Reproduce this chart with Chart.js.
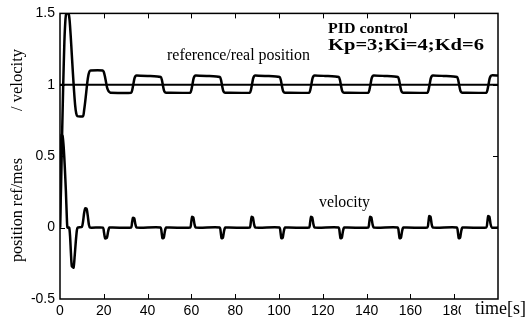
<!DOCTYPE html>
<html>
<head>
<meta charset="utf-8">
<script src="https://cdn.jsdelivr.net/npm/chart.js@4"></script>
<style>
  html, body { margin: 0; padding: 0; background: #fff; }
  #wrap { width: 526px; height: 322px; }
</style>
</head>
<body>
<div id="wrap"><canvas id="chart" width="526" height="322"></canvas></div>
<script>
// axis ticks
const xTickValues = [0, 20, 40, 60, 80, 100, 120, 140, 160, 180];
const xTickLabels = ["0", "20", "40", "60", "80", "100", "120", "140", "160", "180"];
const yTickValues = [-0.5, 0, 0.5, 1, 1.5];
const yTickLabels = ["-0.5", "0", "0.5", "1", "1.5"];

// reference position (step to 1)
const refTime = [0, 200];
const refValue = [1, 1];

const posTime = [
  0, 0.5, 1, 1.5, 2, 2.5, 2.9, 3.9, 4.4, 4.9, 5.4, 5.9, 6.4, 6.9, 7.4, 7.9, 10.5, 11, 11.5, 12, 12.5, 13, 13.5, 14,
  19.5, 20, 20.5, 21, 21.5, 22, 22.5, 23,
  32.5, 33, 33.5, 34, 34.5, 35, 40, 46, 46.5, 47, 47.5, 48, 48.5,
  59.5, 60, 60.5, 61, 61.5, 62, 67, 73, 73.5, 74, 74.5, 75, 75.5,
  86.7, 87.2, 87.7, 88.2, 88.7, 89.2, 94, 100.3, 100.8, 101.3, 101.8, 102.3, 102.8,
  113.8, 114.3, 114.8, 115.3, 115.8, 116.3, 121, 127.3, 127.8, 128.3, 128.8, 129.3, 129.8,
  140.8, 141.3, 141.8, 142.3, 142.8, 143.3, 148, 154.3, 154.8, 155.3, 155.8, 156.3, 156.8,
  167.8, 168.3, 168.8, 169.3, 169.8, 170.3, 175, 181.3, 181.8, 182.3, 182.8, 183.3, 183.8,
  194.7, 195.2, 195.7, 196.2, 196.7, 197.2, 200
];
const posValue = [
  0, 0.3, 0.68, 1.02, 1.3, 1.46, 1.5, 1.5, 1.45, 1.34, 1.21, 1.08, 0.96, 0.86, 0.8, 0.78, 0.78, 0.82, 0.88, 0.95, 1.02, 1.07, 1.095, 1.1,
  1.1, 1.09, 1.06, 1.02, 0.98, 0.96, 0.95, 0.945,
  0.945, 0.965, 1.005, 1.045, 1.062, 1.066, 1.062, 1.055, 1.035, 0.995, 0.96, 0.947, 0.945,
  0.945, 0.965, 1.005, 1.045, 1.062, 1.066, 1.062, 1.055, 1.035, 0.995, 0.96, 0.947, 0.945,
  0.945, 0.965, 1.005, 1.045, 1.062, 1.066, 1.062, 1.055, 1.035, 0.995, 0.96, 0.947, 0.945,
  0.945, 0.965, 1.005, 1.045, 1.062, 1.066, 1.062, 1.055, 1.035, 0.995, 0.96, 0.947, 0.945,
  0.945, 0.965, 1.005, 1.045, 1.062, 1.066, 1.062, 1.055, 1.035, 0.995, 0.96, 0.947, 0.945,
  0.945, 0.965, 1.005, 1.045, 1.062, 1.066, 1.062, 1.055, 1.035, 0.995, 0.96, 0.947, 0.945,
  0.945, 0.965, 1.005, 1.045, 1.062, 1.066, 1.065
];

// velocity
const velTime = [
  0, 0.3, 0.7, 1.2, 1.7, 2.2, 2.7, 3.1, 3.4, 4.2, 4.6, 5, 5.4, 6.2, 6.7, 7.2, 7.7, 8.1,
  10, 10.5, 11, 11.5, 12.2, 12.7, 13.2, 13.7,
  19.6, 20.1, 20.6, 21.4, 22, 22.6,
  32.4, 32.9, 33.3, 33.9, 34.4, 35,
  45.9, 46.4, 46.8, 47.4, 47.9, 48.5,
  59.4, 59.9, 60.3, 60.9, 61.4, 62,
  72.9, 73.4, 73.8, 74.4, 74.9, 75.5,
  86.6, 87.1, 87.5, 88.1, 88.6, 89.2,
  100.2, 100.7, 101.1, 101.7, 102.2, 102.8,
  113.7, 114.2, 114.6, 115.2, 115.7, 116.3,
  127.2, 127.7, 128.1, 128.7, 129.2, 129.8,
  140.7, 141.2, 141.6, 142.2, 142.7, 143.3,
  154.2, 154.7, 155.1, 155.7, 156.2, 156.8,
  167.7, 168.2, 168.6, 169.2, 169.7, 170.3,
  181.2, 181.7, 182.1, 182.7, 183.2, 183.8,
  194.6, 195.1, 195.5, 196.1, 196.6, 197.2, 200
];
const velValue = [
  0, 0.45, 0.65, 0.64, 0.56, 0.42, 0.25, 0.08, 0, 0, -0.06, -0.18, -0.27, -0.28, -0.2, -0.1, -0.02, 0,
  0.005, 0.04, 0.1, 0.135, 0.13, 0.08, 0.02, 0,
  0, -0.035, -0.075, -0.072, -0.025, 0,
  0, 0.035, 0.068, 0.065, 0.025, 0,
  0, -0.035, -0.075, -0.07, -0.025, 0,
  0, 0.035, 0.075, 0.07, 0.025, 0,
  0, -0.035, -0.075, -0.07, -0.025, 0,
  0, 0.035, 0.075, 0.07, 0.025, 0,
  0, -0.035, -0.075, -0.07, -0.025, 0,
  0, 0.035, 0.075, 0.07, 0.025, 0,
  0, -0.035, -0.075, -0.07, -0.025, 0,
  0, 0.035, 0.075, 0.07, 0.025, 0,
  0, -0.035, -0.075, -0.07, -0.025, 0,
  0, 0.035, 0.08, 0.075, 0.025, 0,
  0, -0.035, -0.075, -0.07, -0.025, 0,
  0, 0.035, 0.08, 0.075, 0.025, 0, 0
];

function toPoints(xs, ys) {
  return xs.map((x, i) => ({ x, y: ys[i] }));
}

function drawStretched(ctx, text, x, y, font, targetWidth) {
  ctx.save();
  ctx.font = font;
  const w = ctx.measureText(text).width;
  ctx.translate(x, y);
  ctx.scale(targetWidth ? targetWidth / w : 1, 1);
  ctx.fillText(text, 0, 0);
  ctx.restore();
}

function drawRotated(ctx, text, cx, cy, font, targetWidth) {
  ctx.save();
  ctx.font = font;
  const w = ctx.measureText(text).width;
  ctx.translate(cx, cy);
  ctx.rotate(-Math.PI / 2);
  ctx.scale(targetWidth ? targetWidth / w : 1, 1);
  ctx.textAlign = "center";
  ctx.textBaseline = "middle";
  ctx.fillText(text, 0, 0);
  ctx.restore();
}

const framePlugin = {
  id: "frame",
  afterDraw(chart) {
    const { ctx, chartArea: a, scales } = chart;
    const xs = scales.x;
    const ys = scales.y;
    const tick = 5;

    ctx.save();
    ctx.strokeStyle = "#000";
    ctx.lineWidth = 1.5;
    ctx.strokeRect(a.left, a.top, a.right - a.left, a.bottom - a.top);

    ctx.lineWidth = 1;
    ctx.beginPath();
    xTickValues.forEach((v) => {
      if (v === 0) return;
      const px = Math.round(xs.getPixelForValue(v)) + 0.5;
      ctx.moveTo(px, a.bottom);
      ctx.lineTo(px, a.bottom - tick);
      ctx.moveTo(px, a.top);
      ctx.lineTo(px, a.top + tick);
    });
    yTickValues.forEach((v) => {
      if (v === -0.5 || v === 1.5) return;
      const py = Math.round(ys.getPixelForValue(v)) + 0.5;
      ctx.moveTo(a.left, py);
      ctx.lineTo(a.left + tick, py);
      ctx.moveTo(a.right, py);
      ctx.lineTo(a.right - tick, py);
    });
    ctx.stroke();

    // annotations
    ctx.fillStyle = "#000";
    ctx.textAlign = "left";
    ctx.textBaseline = "alphabetic";
    drawStretched(ctx, "PID control", 328, 33, "bold 15px 'Liberation Serif'", 80);
    drawStretched(ctx, "Kp=3;Ki=4;Kd=6", 328, 50, "bold 16px 'Liberation Serif'", 156);
    drawStretched(ctx, "reference/real position", 167, 60, "16px 'Liberation Serif'", 143);
    drawStretched(ctx, "velocity", 319, 207, "16px 'Liberation Serif'", 51);

    // x-axis title sits over the last tick label
    ctx.fillStyle = "#fff";
    ctx.fillRect(461, 301, 65, 21);
    ctx.fillStyle = "#000";
    drawStretched(ctx, "time[s]", 475, 314, "18px 'Liberation Serif'", 51);

    // y-axis title, rotated
    drawRotated(ctx, "position ref/mes", 18, 210, "16px 'Liberation Serif'", 104);
    drawRotated(ctx, "/ velocity", 18, 80, "16px 'Liberation Serif'", 62);

    ctx.restore();
  }
};

const tickFont = { family: "'Liberation Sans', Arial, sans-serif", size: 14 };

new Chart(document.getElementById("chart"), {
  type: "line",
  data: {
    datasets: [
      {
        label: "reference",
        data: toPoints(refTime, refValue),
        borderColor: "#000",
        borderWidth: 2,
        pointRadius: 0,
        tension: 0
      },
      {
        label: "position",
        data: toPoints(posTime, posValue),
        borderColor: "#000",
        borderWidth: 2.5,
        pointRadius: 0,
        tension: 0.2
      },
      {
        label: "velocity",
        data: toPoints(velTime, velValue),
        borderColor: "#000",
        borderWidth: 2.5,
        pointRadius: 0,
        tension: 0.2
      }
    ]
  },
  options: {
    responsive: false,
    devicePixelRatio: 1,
    animation: false,
    events: [],
    layout: { padding: { left: 0, right: 28, top: 13, bottom: 0 } },
    plugins: {
      legend: { display: false },
      tooltip: { enabled: false }
    },
    scales: {
      x: {
        type: "linear",
        min: 0,
        max: 200,
        afterBuildTicks: (scale) => {
          scale.ticks = xTickValues.map((value) => ({ value }));
        },
        afterFit: (scale) => {
          scale.height = 23;
        },
        grid: { display: false, drawTicks: false },
        border: { display: false },
        ticks: {
          color: "#000",
          font: tickFont,
          padding: 4,
          maxRotation: 0,
          autoSkip: false,
          callback: (value) => xTickLabels[xTickValues.indexOf(value)]
        }
      },
      y: {
        type: "linear",
        min: -0.5,
        max: 1.5,
        afterBuildTicks: (scale) => {
          scale.ticks = yTickValues.map((value) => ({ value }));
        },
        afterFit: (scale) => {
          scale.width = 60;
        },
        grid: { display: false, drawTicks: false },
        border: { display: false },
        ticks: {
          color: "#000",
          font: tickFont,
          padding: 5,
          autoSkip: false,
          callback: (value) => yTickLabels[yTickValues.indexOf(value)]
        }
      }
    }
  },
  plugins: [framePlugin]
});
</script>
</body>
</html>
